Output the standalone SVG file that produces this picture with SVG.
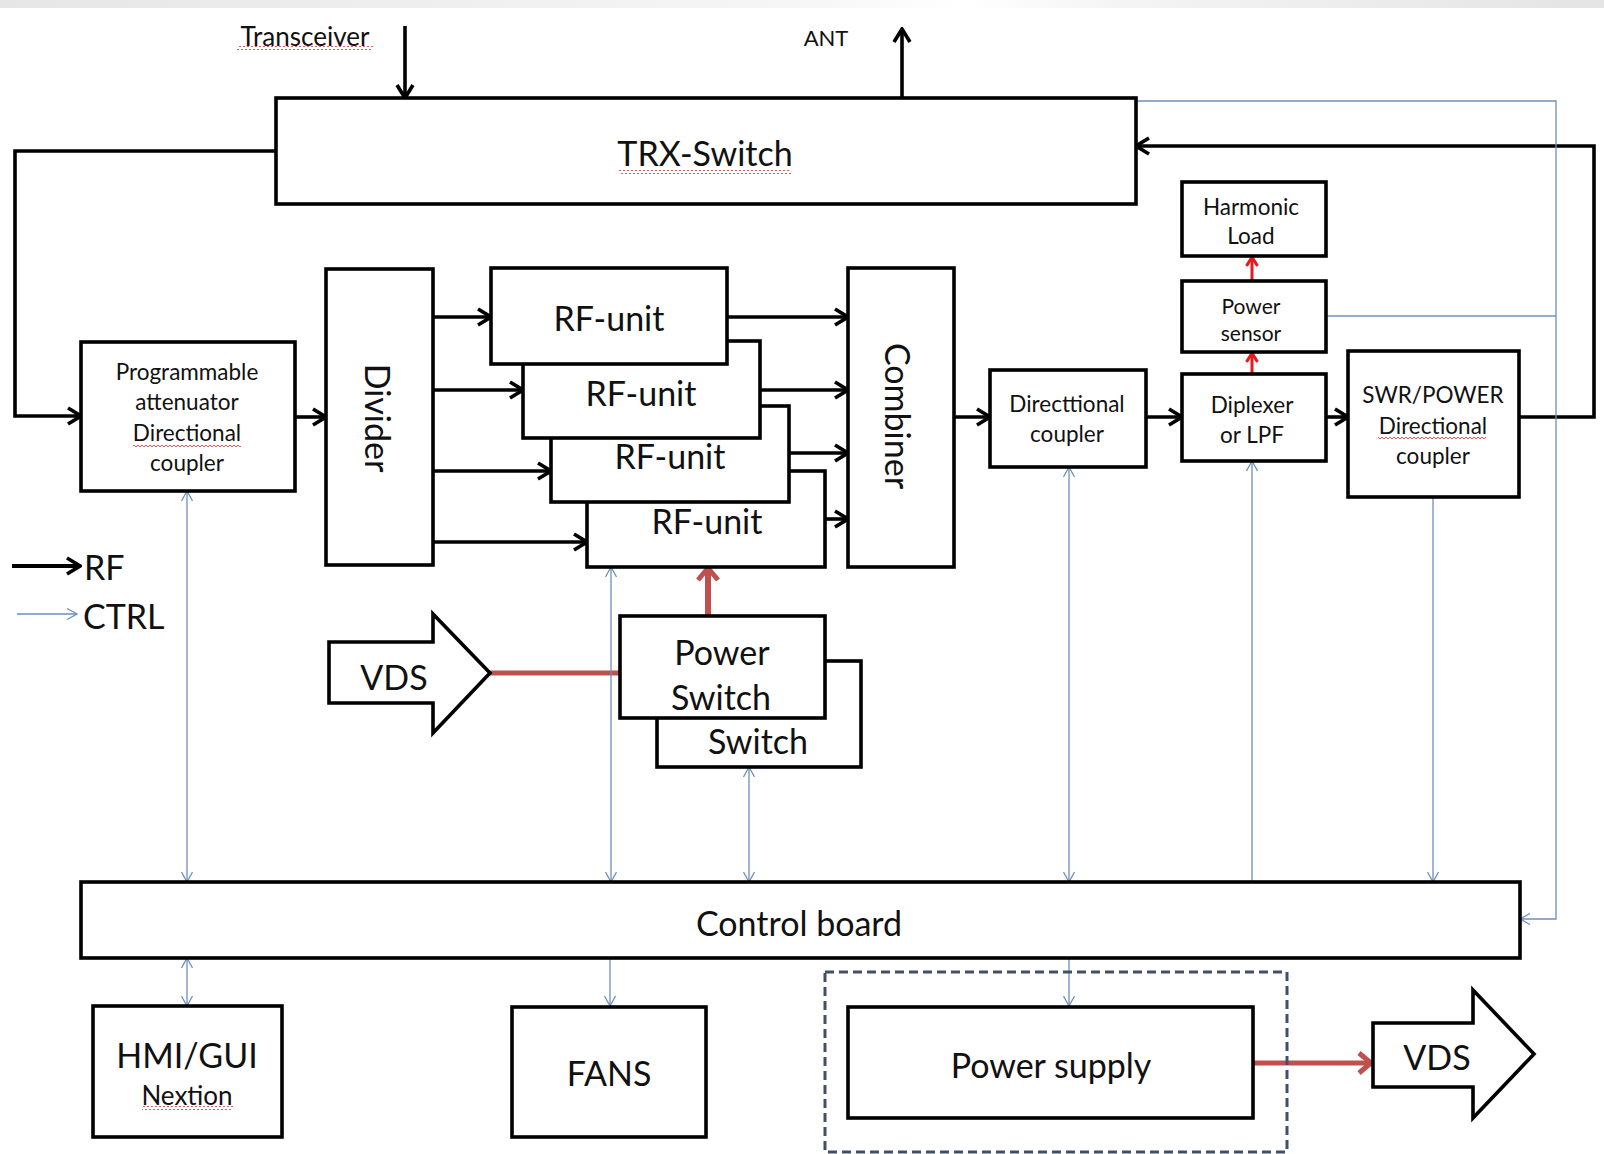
<svg xmlns="http://www.w3.org/2000/svg" width="1604" height="1154" viewBox="0 0 1604 1154">
<style>
.box{fill:#fff;stroke:#000;stroke-width:3.6}
.t{font-family:Lato,"Liberation Sans",sans-serif;fill:#111;text-anchor:middle;dominant-baseline:central}
.big{font-size:34px}
.sm{font-size:22.5px}
.rf{fill:none;stroke:#000;stroke-width:3.6}
.ctrl{fill:none;stroke:#6d8fbd;stroke-width:1.3}
.red{fill:none;stroke:#e8181c;stroke-width:3}
.dred{fill:none;stroke:#c0504d;stroke-width:5}
.sq{fill:url(#squig)}
</style>
<defs>
<linearGradient id="topg" x1="0" x2="1" y1="0" y2="0">
<stop offset="0" stop-color="#e6e6e6"/><stop offset="0.5" stop-color="#f6f6f6"/><stop offset="0.6" stop-color="#ffffff"/><stop offset="0.7" stop-color="#f4f4f4"/><stop offset="1" stop-color="#e4e4e4"/>
</linearGradient>
<pattern id="squig" patternUnits="userSpaceOnUse" width="4" height="4">
<polyline points="0,3 2,1 4,3" fill="none" stroke="#e04545" stroke-width="0.9"/>
</pattern>
<marker id="ab" markerUnits="userSpaceOnUse" markerWidth="18" markerHeight="20" viewBox="0 0 18 20" refX="16" refY="10" orient="auto">
<path d="M3,2 L16,10 L3,18" fill="none" stroke="#000" stroke-width="3.6"/>
</marker>
<marker id="ac" markerUnits="userSpaceOnUse" markerWidth="12" markerHeight="14" viewBox="0 0 12 14" refX="11" refY="7" orient="auto-start-reverse">
<path d="M1,1.5 L11,7 L1,12.5" fill="none" stroke="#6d8fbd" stroke-width="1.3"/>
</marker>
<marker id="ar" markerUnits="userSpaceOnUse" markerWidth="14" markerHeight="14" viewBox="0 0 14 14" refX="12" refY="7" orient="auto">
<path d="M3,1.5 L12,7 L3,12.5" fill="none" stroke="#e8181c" stroke-width="3"/>
</marker>
<marker id="ad" markerUnits="userSpaceOnUse" markerWidth="18" markerHeight="24" viewBox="0 0 18 24" refX="15" refY="12" orient="auto">
<path d="M3,2 L15,12 L3,22" fill="none" stroke="#c0504d" stroke-width="5"/>
</marker>
</defs>
<rect x="0" y="0" width="1604" height="8" fill="url(#topg)"/>

<g id="labels-top">
<text class="t" x="305" y="36" style="font-size:26px">Transceiver</text>
<rect class="sq" x="237" y="46" width="136" height="4"/>
<text class="t" x="826" y="37" style="font-size:22px">ANT</text>
</g>

<g id="connectors">
<path class="rf" d="M405,26 V98" marker-end="url(#ab)"/>
<path class="rf" d="M902,98 V29" marker-end="url(#ab)"/>
<path class="rf" d="M276,151 H15 V416 H81" marker-end="url(#ab)"/>
<path class="rf" d="M1519,417 H1594 V146 H1136" marker-end="url(#ab)"/>
<path class="rf" d="M295,417 H326" marker-end="url(#ab)"/>
<path class="rf" d="M433,317 H491" marker-end="url(#ab)"/>
<path class="rf" d="M433,390 H523" marker-end="url(#ab)"/>
<path class="rf" d="M433,471 H551" marker-end="url(#ab)"/>
<path class="rf" d="M433,542 H587" marker-end="url(#ab)"/>
<path class="rf" d="M727,317 H848" marker-end="url(#ab)"/>
<path class="rf" d="M760,390 H848" marker-end="url(#ab)"/>
<path class="rf" d="M789,453 H848" marker-end="url(#ab)"/>
<path class="rf" d="M825,519 H848" marker-end="url(#ab)"/>
<path class="rf" d="M954,417 H990" marker-end="url(#ab)"/>
<path class="rf" d="M1146,417 H1182" marker-end="url(#ab)"/>
<path class="rf" d="M1326,417 H1348" marker-end="url(#ab)"/>
<path class="red" d="M1252,374 V353" marker-end="url(#ar)"/>
<path class="red" d="M1252,281 V257" marker-end="url(#ar)"/>
<path class="dred" d="M490,673 H620"/>
<path class="dred" style="stroke-width:6" d="M708,616 V568" marker-end="url(#ad)"/>
<path class="dred" d="M1253,1063 H1371" marker-end="url(#ad)"/>
<path class="ctrl" d="M187,491 V882" marker-start="url(#ac)" marker-end="url(#ac)"/>
<path class="ctrl" d="M611,567 V882" marker-start="url(#ac)" marker-end="url(#ac)"/>
<path class="ctrl" d="M749,767 V882" marker-start="url(#ac)" marker-end="url(#ac)"/>
<path class="ctrl" d="M1069,467 V882" marker-start="url(#ac)" marker-end="url(#ac)"/>
<path class="ctrl" d="M1252,882 V461" marker-end="url(#ac)"/>
<path class="ctrl" d="M1433,497 V882" marker-end="url(#ac)"/>
<path class="ctrl" d="M1136,101 H1556 V919 H1520" marker-end="url(#ac)"/>
<path class="ctrl" d="M1326,316 H1556"/>
<path class="ctrl" d="M187,958 V1006" marker-start="url(#ac)" marker-end="url(#ac)"/>
<path class="ctrl" d="M610,958 V1006" marker-end="url(#ac)"/>
<path class="ctrl" d="M1069,958 V1006" marker-end="url(#ac)"/>
</g>

<g id="trx-switch">
<rect class="box" x="276" y="98" width="860" height="106"/>
<text class="t big" x="705" y="152">TRX-Switch</text>
<rect class="sq" x="619" y="170" width="172" height="4"/>
</g>

<g id="harmonic-load">
<rect class="box" x="1182" y="182" width="144" height="74"/>
<text class="t sm" x="1251" y="206">Harmonic</text>
<text class="t sm" x="1251" y="235">Load</text>
</g>

<g id="power-sensor">
<rect class="box" x="1182" y="281" width="144" height="71"/>
<text class="t sm" x="1251" y="305" style="font-size:21px">Power</text>
<text class="t sm" x="1251" y="332" style="font-size:21px">sensor</text>
</g>

<g id="diplexer">
<rect class="box" x="1182" y="374" width="144" height="87"/>
<text class="t sm" x="1252" y="404">Diplexer</text>
<text class="t sm" x="1252" y="434">or LPF</text>
</g>

<g id="swr-coupler">
<rect class="box" x="1348" y="351" width="171" height="146"/>
<text class="t sm" x="1433" y="394">SWR/POWER</text>
<text class="t sm" x="1433" y="425">Directional</text>
<rect class="sq" x="1378" y="435" width="108" height="4"/>
<text class="t sm" x="1433" y="455">coupler</text>
</g>

<g id="directional-coupler">
<rect class="box" x="990" y="370" width="156" height="97"/>
<text class="t sm" x="1067" y="403">Directtional</text>
<text class="t sm" x="1067" y="433">coupler</text>
</g>

<g id="combiner">
<rect class="box" x="848" y="268" width="106" height="299"/>
<text class="t big" transform="translate(898,416) rotate(90)" x="0" y="0">Combiner</text>
</g>

<g id="divider">
<rect class="box" x="326" y="269" width="107" height="296"/>
<text class="t big" transform="translate(378,418) rotate(90)" x="0" y="0">Divider</text>
</g>

<g id="prog-attenuator">
<rect class="box" x="81" y="342" width="214" height="149"/>
<text class="t sm" x="187" y="371">Programmable</text>
<text class="t sm" x="187" y="401">attenuator</text>
<text class="t sm" x="187" y="432">Directional</text>
<rect class="sq" x="133" y="443" width="108" height="4"/>
<text class="t sm" x="187" y="462">coupler</text>
</g>

<g id="rf-unit-4">
<rect class="box" x="587" y="471" width="238" height="96"/>
<text class="t big" x="707" y="520">RF-unit</text>
</g>
<g id="rf-unit-3">
<rect class="box" x="551" y="406" width="238" height="96"/>
<text class="t big" x="670" y="455">RF-unit</text>
</g>
<g id="rf-unit-2">
<rect class="box" x="523" y="341" width="237" height="97"/>
<text class="t big" x="641" y="392">RF-unit</text>
</g>
<g id="rf-unit-1">
<rect class="box" x="491" y="268" width="236" height="96"/>
<text class="t big" x="609" y="317">RF-unit</text>
</g>

<g id="legend">
<path class="rf" style="stroke-width:4" d="M12,566 H80" marker-end="url(#ab)"/>
<text class="t big" x="84" y="566" style="text-anchor:start">RF</text>
<path class="ctrl" d="M17,614 H77" marker-end="url(#ac)"/>
<text class="t big" x="83" y="615" style="text-anchor:start">CTRL</text>
</g>

<g id="vds-in">
<polygon class="box" points="329,642 433,642 433,614 490,673 433,733 433,703 329,703"/>
<text class="t big" x="394" y="676">VDS</text>
</g>

<g id="power-switch-back">
<rect class="box" x="657" y="661" width="204" height="106"/>
<text class="t big" x="758" y="740">Switch</text>
</g>
<g id="power-switch">
<rect class="box" x="620" y="616" width="205" height="102"/>
<text class="t big" x="722" y="651">Power</text>
<text class="t big" x="721" y="696">Switch</text>
</g>

<g id="control-board">
<rect class="box" x="81" y="882" width="1439" height="76"/>
<text class="t big" x="799" y="922">Control board</text>
</g>

<g id="hmi-gui">
<rect class="box" x="93" y="1006" width="189" height="131"/>
<text class="t big" x="187" y="1054">HMI/GUI</text>
<text class="t" x="187" y="1095" style="font-size:26px">Nextion</text>
<rect class="sq" x="142" y="1106" width="91" height="4"/>
</g>

<g id="fans">
<rect class="box" x="512" y="1007" width="194" height="130"/>
<text class="t big" x="609" y="1072">FANS</text>
</g>

<g id="power-supply-group">
<rect x="825" y="972" width="462" height="180" fill="none" stroke="#3f5068" stroke-width="3" stroke-dasharray="9 5"/>
</g>
<g id="power-supply">
<rect class="box" x="848" y="1007" width="405" height="111"/>
<text class="t big" x="1051" y="1064">Power supply</text>
</g>

<g id="vds-out">
<polygon class="box" points="1373,1023 1473,1023 1473,990 1534,1054 1473,1118 1473,1087 1373,1087"/>
<text class="t big" x="1437" y="1056">VDS</text>
</g>
</svg>
